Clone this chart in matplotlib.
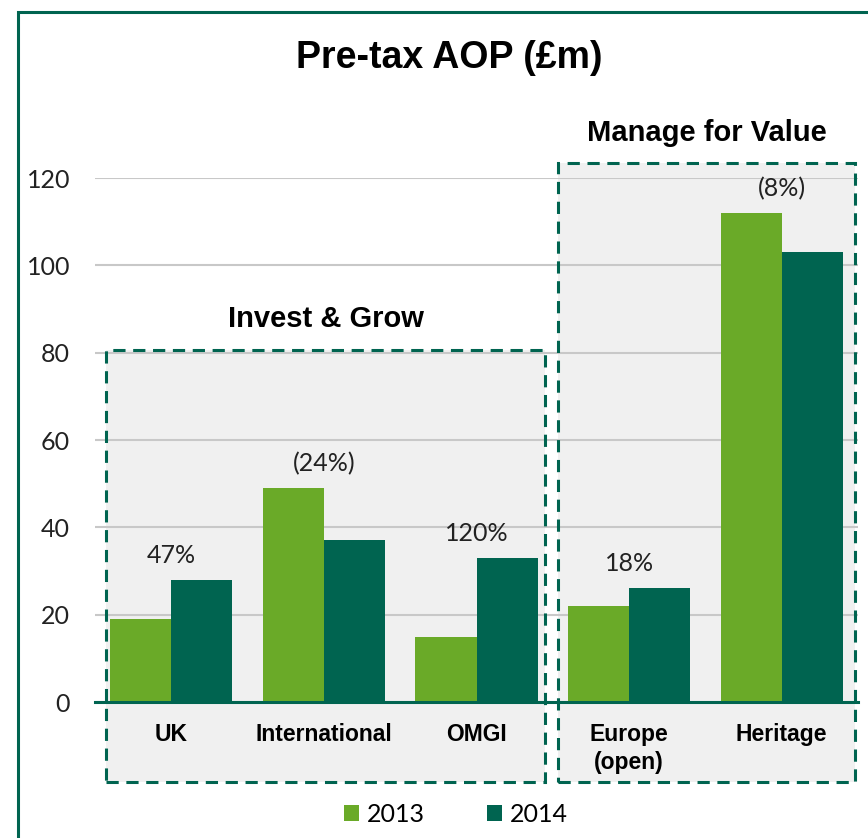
import numpy as np
import matplotlib.pyplot as plt
from matplotlib.patches import Rectangle

# DATA
categories = ["UK", "International", "OMGI", "Europe\n(open)", "Heritage"]
aop_2013 = [19, 49, 15, 22, 112]
aop_2014 = [28, 37, 33, 26, 103]
changes = ["47%", "(24%)", "120%", "18%", "(8%)"]
yticks = [0, 20, 40, 60, 80, 100, 120]

LIGHT = "#6aaa28"
DARK = "#006450"
plt.rcParams['font.family'] = ['Lato', 'DejaVu Sans']

fig = plt.figure(figsize=(8.68, 8.38), dpi=100)
# outer green border (cut off at right and bottom)
fig.patches.append(Rectangle((18 / 868, -0.1), 1.1, 1.1 - 12 / 838,
                             transform=fig.transFigure, fill=False,
                             edgecolor=DARK, linewidth=2.2))

ax = fig.add_axes([95 / 868, 136 / 838, 763 / 868, 524 / 838])
x = np.arange(len(categories))
w = 0.4
ax.bar(x - w / 2, aop_2013, w, color=LIGHT, label="2013", zorder=2)
ax.bar(x + w / 2, aop_2014, w, color=DARK, label="2014", zorder=2)

ax.set_xlim(-0.5, 4.5)
ax.set_ylim(0, 120)
ax.set_yticks(yticks)
ax.tick_params(axis='y', length=0, labelsize=18, pad=18, labelcolor="#222222")
ax.tick_params(axis='x', length=0, pad=15)
ax.set_xticks(x)
ax.set_xticklabels(categories, fontsize=16.5, fontweight='bold',
                   family=['Liberation Sans'], va='top', linespacing=1.3)
ax.grid(axis='y', color="#c8c8c8", linewidth=1.5, zorder=1)
for s in ['top', 'right', 'left']:
    ax.spines[s].set_visible(False)
ax.spines['bottom'].set_color(DARK)
ax.spines['bottom'].set_linewidth(2.2)
ax.spines['bottom'].set_zorder(3)
ax.set_facecolor("none")

# percentage change labels
for i in range(len(categories)):
    top = max(aop_2013[i], aop_2014[i])
    ax.text(x[i], top + 3, changes[i], ha='center', va='bottom',
            fontsize=18, color="#222222")

# dashed group boxes
boxes = [(-0.428, -18.3, 2.449, 80.6, "Invest & Grow"),
         (2.534, -18.3, 4.48, 123.4, "Manage for Value")]
for x0, y0, x1, y1, name in boxes:
    ax.add_patch(Rectangle((x0, y0), x1 - x0, y1 - y0, facecolor="#f0f0f0",
                           edgecolor="none", zorder=0.5, clip_on=False))
    ax.add_patch(Rectangle((x0, y0), x1 - x0, y1 - y0, facecolor="none",
                           edgecolor=DARK, linestyle=(0, (4, 2.5)), linewidth=2.2,
                           zorder=4, clip_on=False))
    ax.text((x0 + x1) / 2, y1 + 3.8, name, ha='center', va='bottom',
            fontsize=21, fontweight='bold', family=['Liberation Sans'])

fig.text(449 / 868, 1 - 58 / 838, "Pre-tax AOP (£m)", ha='center', va='center',
         fontsize=27, fontweight='bold', family=['Liberation Sans'])

fig.legend(loc='center', bbox_to_anchor=(456 / 868, 1 - 814 / 838), ncol=2,
           frameon=False, fontsize=18, handlelength=0.6, handleheight=0.6,
           columnspacing=2.5, handletextpad=0.3)

fig.savefig("out.png", dpi=100)
